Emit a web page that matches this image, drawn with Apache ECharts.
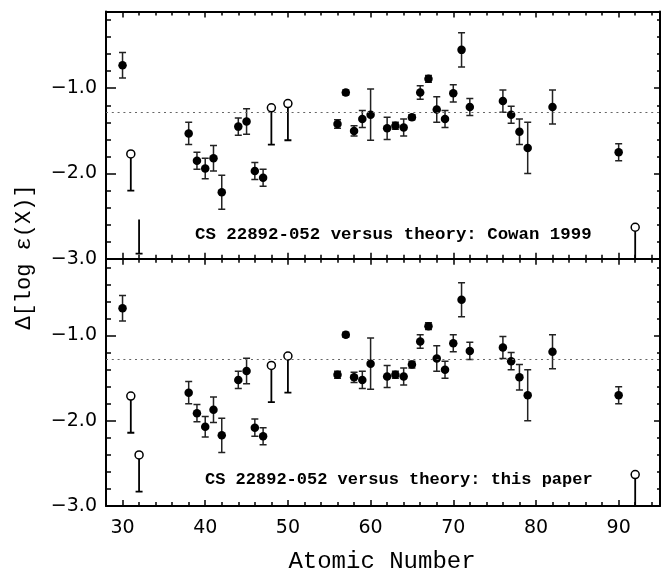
<!DOCTYPE html>
<html>
<head>
<meta charset="utf-8">
<script src="https://cdn.jsdelivr.net/npm/echarts@6/dist/echarts.min.js"></script>
<style>
html,body{margin:0;padding:0;background:#fff;}
#chart{width:661px;height:573px;}
</style>
</head>
<body>
<div id="chart"></div>
<script>
// ---- data ----
const elemZ = [30,38,39,40,41,42,44,45,46,47,56,57,58,59,60,62,63,64,65,66,67,68,69,70,71,72,76,77,78,79,82,90];
const topVal = [-0.73,-1.53,-1.85,-1.94,-1.82,-2.22,-1.45,-1.39,-1.97,-2.05,-1.42,-1.05,-1.50,-1.36,-1.31,-1.47,-1.44,-1.46,-1.34,-1.05,-0.89,-1.25,-1.36,-1.06,-0.55,-1.22,-1.15,-1.31,-1.51,-1.70,-1.22,-1.75];
const topErr = [0.15,0.13,0.10,0.12,0.15,0.20,0.10,0.15,0.10,0.10,0.05,0.03,0.06,0.10,0.30,0.13,0.04,0.10,0.03,0.08,0.04,0.15,0.10,0.10,0.20,0.10,0.13,0.10,0.15,0.30,0.20,0.10];
const botVal = [-0.68,-1.67,-1.91,-2.07,-1.87,-2.17,-1.52,-1.415,-2.08,-2.18,-1.46,-0.99,-1.49,-1.52,-1.33,-1.48,-1.46,-1.48,-1.34,-1.07,-0.89,-1.27,-1.40,-1.09,-0.58,-1.18,-1.14,-1.30,-1.49,-1.70,-1.19,-1.70];
const botErr = [0.15,0.13,0.10,0.12,0.15,0.20,0.10,0.15,0.10,0.10,0.04,0.03,0.06,0.10,0.30,0.13,0.04,0.10,0.04,0.08,0.04,0.15,0.10,0.10,0.20,0.10,0.13,0.10,0.15,0.30,0.20,0.10];
// open symbols: value and lower end of their range line
const topLimZ = [31,48,50,92];
const topLimVal = [-1.77,-1.23,-1.18,-2.63];
const topLimLow = [-2.20,-1.66,-1.61,-3.06];
const topBareZ = [32];
const topBareHigh = [-2.54];
const topBareLow = [-2.94];
const botLimZ = [31,32,48,50,92];
const botLimVal = [-1.71,-2.40,-1.35,-1.24,-2.63];
const botLimLow = [-2.14,-2.83,-1.78,-1.67,-3.06];
const refLevel = -1.28;
// axes
const xMin = 28, xMax = 95;
const yMin = -3.0, yMax = -0.1;
const xMajorTicks = [30,40,50,60,70,80,90];
const xMinorTicks = [28,30,32,34,36,38,40,42,44,46,48,50,52,54,56,58,60,62,64,66,68,70,72,74,76,78,80,82,84,86,88,90,92,94];
const yMajorTicks = [-3,-2,-1];
const yMinorTicks = [-3.0,-2.8,-2.6,-2.4,-2.2,-2.0,-1.8,-1.6,-1.4,-1.2,-1.0,-0.8,-0.6,-0.4,-0.2];
const panelTexts = ['CS 22892-052 versus theory: Cowan 1999','CS 22892-052 versus theory: this paper'];
const xName = 'Atomic Number';
const yName = 'Δ[log ε(X)]';

// ---- chart ----
const chart = echarts.init(document.getElementById('chart'), null, {renderer:'canvas'});
const grids = [
  {left:106, top:11.5, width:554, height:247.3, containLabel:false, outerBoundsMode:'none'},
  {left:106, top:258.8, width:554, height:247.3, containLabel:false, outerBoundsMode:'none'}
];
const frameLine = {show:true, lineStyle:{color:'#000', width:2}};
const xAxes = [], yAxes = [];
function fmtY(v){ return (v<0?'\u2212':'') + Math.abs(v).toFixed(1); }
for (let g=0; g<2; g++){
  const showX = g===1;
  ['bottom','top'].forEach(pos=>{
    xAxes.push({type:'value', gridIndex:g, position:pos, min:xMin, max:xMax,
      axisLine: frameLine, splitLine:{show:false},
      axisTick:{show:true, inside:true, length:6, customValues:xMajorTicks, lineStyle:{color:'#000', width:1.5}},
      axisLabel:{show: showX && pos==='bottom', customValues:xMajorTicks, margin:12,
        fontFamily:'DejaVu Sans', fontSize:19, color:'#000'}});
    xAxes.push({type:'value', gridIndex:g, position:pos, min:xMin, max:xMax,
      axisLine:{show:false}, splitLine:{show:false},
      axisTick:{show:true, inside:true, length:4, customValues:xMinorTicks, lineStyle:{color:'#000', width:1.5}},
      axisLabel:{show:false}});
  });
  ['left','right'].forEach(pos=>{
    const left = pos==='left';
    yAxes.push({type:'value', gridIndex:g, position:pos, min:yMin, max:yMax,
      axisLine: frameLine, splitLine:{show:false},
      axisTick:{show:true, inside:true, length: left?10:6, customValues:yMajorTicks, lineStyle:{color:'#000', width:1.5}},
      axisLabel:{show: left, customValues:yMajorTicks, formatter:fmtY, margin:9,
        fontFamily:'DejaVu Sans', fontSize:19, color:'#000'}});
    yAxes.push({type:'value', gridIndex:g, position:pos, min:yMin, max:yMax,
      axisLine:{show:false}, splitLine:{show:false},
      axisTick:{show:true, inside:true, length: left?5:3, customValues:yMinorTicks, lineStyle:{color:'#000', width:1.5}},
      axisLabel:{show:false}});
  });
}

function errBarRender(params, api){
  const z = api.value(0), v = api.value(1), e = api.value(2);
  const hi = api.coord([z, v+e]), lo = api.coord([z, v-e]);
  const w = 3.5;
  const st = {stroke:'#222', lineWidth:1.5};
  return {type:'group', children:[
    {type:'line', shape:{x1:hi[0], y1:hi[1], x2:lo[0], y2:lo[1]}, style:st},
    {type:'line', shape:{x1:hi[0]-w, y1:hi[1], x2:hi[0]+w, y2:hi[1]}, style:st},
    {type:'line', shape:{x1:lo[0]-w, y1:lo[1], x2:lo[0]+w, y2:lo[1]}, style:st}
  ]};
}
function limRender(params, api){
  const z = api.value(0), v = api.value(1), l = api.value(2);
  const a = api.coord([z, v]), b = api.coord([z, l]);
  const w = 3.5;
  const st = {stroke:'#000', lineWidth:1.8};
  return {type:'group', children:[
    {type:'line', shape:{x1:a[0], y1:a[1], x2:b[0], y2:b[1]}, style:st},
    {type:'line', shape:{x1:b[0]-w, y1:b[1], x2:b[0]+w, y2:b[1]}, style:st}
  ]};
}

const series = [];
const panels = [
  {val:topVal, err:topErr, limZ:topLimZ, limVal:topLimVal, limLow:topLimLow},
  {val:botVal, err:botErr, limZ:botLimZ, limVal:botLimVal, limLow:botLimLow}
];
panels.forEach((p,g)=>{
  const xi = 4*g, yi = 4*g;
  series.push({type:'custom', xAxisIndex:xi, yAxisIndex:yi, clip:true, z:2,
    renderItem:errBarRender, data: elemZ.map((z,i)=>[z, p.val[i], p.err[i]])});
  series.push({type:'custom', xAxisIndex:xi, yAxisIndex:yi, clip:true, z:2,
    renderItem:limRender, data: p.limZ.map((z,i)=>[z, p.limVal[i], p.limLow[i]])});
  if (g===0){
    series.push({type:'custom', xAxisIndex:xi, yAxisIndex:yi, clip:true, z:2,
      renderItem:limRender, data: topBareZ.map((z,i)=>[z, topBareHigh[i], topBareLow[i]])});
  }
  series.push({type:'scatter', xAxisIndex:xi, yAxisIndex:yi, z:3, symbol:'circle', symbolSize:8.5,
    itemStyle:{color:'#000', opacity:1}, data: elemZ.map((z,i)=>[z, p.val[i]]),
    markLine:{silent:true, symbol:'none', label:{show:false}, animation:false,
      lineStyle:{type:[2,3.8], color:'#666', width:1.2, opacity:1},
      data:[{yAxis:refLevel}]}});
  series.push({type:'scatter', xAxisIndex:xi, yAxisIndex:yi, z:4, symbol:'circle', symbolSize:8,
    itemStyle:{color:'#fff', borderColor:'#000', borderWidth:1.5, opacity:1}, data: p.limZ.map((z,i)=>[z, p.limVal[i]])});
});

const graphic = [
  {type:'text', x:195, y:235, style:{text:panelTexts[0], font:'bold 17.4px "Liberation Mono"', fill:'#000', verticalAlign:'middle'}},
  {type:'text', x:205, y:480, style:{text:panelTexts[1], font:'bold 17px "Liberation Mono"', fill:'#000', verticalAlign:'middle'}},
  {type:'text', x:382, y:562, style:{text:xName, font:'24px "Liberation Mono"', fill:'#000', align:'center', verticalAlign:'middle'}},
  {type:'text', x:24, y:257, rotation:Math.PI/2, style:{text:yName, font:'22px "Liberation Mono"', fill:'#000', align:'center', verticalAlign:'middle'}}
];

chart.setOption({animation:false, backgroundColor:'#fff', grid:grids, xAxis:xAxes, yAxis:yAxes, series:series, graphic:graphic});
</script>
</body>
</html>
